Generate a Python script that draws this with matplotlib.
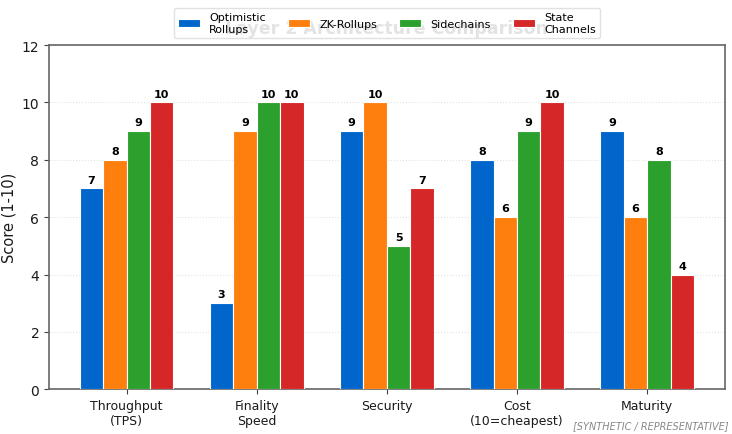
import numpy as np
import matplotlib.pyplot as plt

categories = ['Throughput\n(TPS)', 'Finality\nSpeed', 'Security', 'Cost\n(10=cheapest)', 'Maturity']
series_names = ['Optimistic\nRollups', 'ZK-Rollups', 'Sidechains', 'State\nChannels']
optimistic = [7, 3, 9, 8, 9]
zk_rollups = [8, 9, 10, 6, 6]
sidechains = [9, 10, 5, 9, 8]
state_channels = [10, 10, 7, 10, 4]
colores = ['#0066cc', '#ff7f0e', '#2ca02c', '#d62728']

fig, ax = plt.subplots(figsize=(7.32, 4.35), dpi=100)

x = np.arange(len(categories))
ancho = 0.18
valores = [optimistic, zk_rollups, sidechains, state_channels]
for i, (serie, nombre) in enumerate(zip(valores, series_names)):
    pos = x + (i - 1.5) * ancho
    barras = ax.bar(pos, serie, ancho, label=nombre, color=colores[i], edgecolor='white', linewidth=0.8, zorder=3)
    for b, v in zip(barras, serie):
        ax.text(b.get_x() + b.get_width() / 2, v + 0.13, str(v), ha='center', va='bottom',
                fontsize=8, fontweight='bold', zorder=4)

ax.set_ylim(0, 12)
ax.set_xticks(x)
ax.tick_params(colors='#444444')
ax.set_xticklabels(categories, fontsize=9, color='#1a1a1a')
ax.set_ylabel('Score (1-10)', fontsize=10.5, color='#1a1a1a')
ax.tick_params(axis='y', labelsize=10, labelcolor='#1a1a1a')
ax.grid(axis='y', linestyle=':', color='#e3e3e3', linewidth=0.8, zorder=0)
for s in ax.spines.values():
    s.set_color('#666666')
    s.set_linewidth(1.2)

ax.set_title('Layer 2 Architecture Comparison', fontsize=12.5, fontweight='bold', color='#222222', pad=9)
leg = ax.legend(loc='upper center', bbox_to_anchor=(0.5, 1.125), ncol=4, fontsize=8,
                frameon=True, framealpha=0.88, edgecolor='#dddddd', handlelength=2.0,
                handletextpad=0.8, columnspacing=2.0, labelspacing=0.2, borderpad=0.4)
leg.set_zorder(10)

fig.text(0.995, 0.01, '[SYNTHETIC / REPRESENTATIVE]', ha='right', va='bottom',
         fontsize=7, style='italic', color='#888888')

plt.subplots_adjust(left=0.067, right=0.99, top=0.894, bottom=0.103)
plt.savefig('out.png')
